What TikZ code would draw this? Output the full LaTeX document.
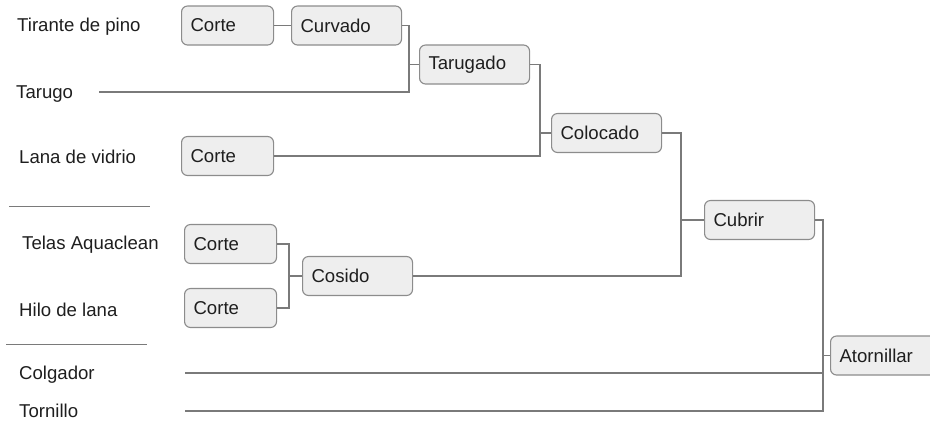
\documentclass[tikz,border=0pt]{standalone}
\usepackage{fontspec}
\setmainfont{Liberation Sans}
\usepackage{tikz}
\usetikzlibrary{positioning}
\definecolor{caja}{HTML}{EEEEEE}
\definecolor{borde}{HTML}{8C8C8C}
\definecolor{traza}{HTML}{7A7A7A}
\definecolor{tinta}{HTML}{1E1E1E}
\tikzstyle{paso} = [rectangle, rounded corners=6pt, draw=borde, fill=caja, line width=1.1pt, minimum height=39pt, inner xsep=9pt, text width=92pt, align=left, anchor=west, text=tinta]
\tikzstyle{pasocorto} = [paso, text width=74pt]
\tikzstyle{material} = [anchor=west, inner sep=0pt, text=tinta]
\tikzstyle{linea} = [draw=traza, line width=1.2pt]

\begin{document}
\begin{tikzpicture}[x=1pt, y=-1pt, font=\fontsize{18.6}{21}\selectfont]
        \useasboundingbox (0,0) rectangle (930,421);
        \clip (0,0) rectangle (930,421);
        % Materiales
        \node (tirante) [material] at (17,27) {Tirante de pino};
        \node (tarugo) [material] at (16,94) {Tarugo};
        \node (lana) [material] at (19,157) {Lana de vidrio};
        \node (telas) [material] at (22,245) {Telas Aquaclean};
        \node (hilo) [material] at (19,310) {Hilo de lana};
        \node (colgador) [material] at (19,375) {Colgador};
        \node (tornillo) [material] at (19,411) {Tornillo};

        % Separadores
        \draw [linea, line width=0.9pt] (9,206) -- (150,206);
        \draw [linea, line width=0.9pt] (6,344) -- (147,344);

        % Pasos
        \node (corte1) [pasocorto] at (181,25.5) {Corte};
        \node (curvado) [paso] at (291,25.5) {Curvado};
        \node (tarugado) [paso] at (419,64.5) {Tarugado};
        \node (corte2) [pasocorto] at (181,156) {Corte};
        \node (colocado) [paso] at (551,133) {Colocado};
        \node (corte3) [pasocorto] at (184,244) {Corte};
        \node (corte4) [pasocorto] at (184,308) {Corte};
        \node (cosido) [paso] at (302,276) {Cosido};
        \node (cubrir) [paso] at (704,220) {Cubrir};
        \node (atornillar) [paso, text width=100pt] at (830,355.5) {Atornillar};

        % Uniones
        \coordinate (tarugo-ini) at (99,92);
        \coordinate (colgador-ini) at (185,373);
        \coordinate (tornillo-ini) at (185,411);
        \coordinate (union1) at (409,64.5);
        \coordinate (union2) at (540,133);
        \coordinate (union3) at (289,276);
        \coordinate (union4) at (681,220);
        \coordinate (union5) at (823,355.5);

        % Lineas
        \draw [linea] (corte1) -- (curvado);
        \draw [linea] (curvado.east) -| (union1) |- (tarugo-ini);
        \draw [linea] (union1) -- (tarugado.west);
        \draw [linea] (tarugado.east) -| (union2) |- (corte2.east);
        \draw [linea] (union2) -- (colocado.west);
        \draw [linea] (corte3.east) -| (union3) |- (corte4.east);
        \draw [linea] (union3) -- (cosido.west);
        \draw [linea] (colocado.east) -| (union4) |- (cosido.east);
        \draw [linea] (union4) -- (cubrir.west);
        \draw [linea] (cubrir.east) -| (union5) |- (tornillo-ini);
        \draw [linea] (colgador-ini) -- (colgador-ini -| union5);
        \draw [linea] (union5) -- (atornillar.west);
    \end{tikzpicture}
\end{document}
